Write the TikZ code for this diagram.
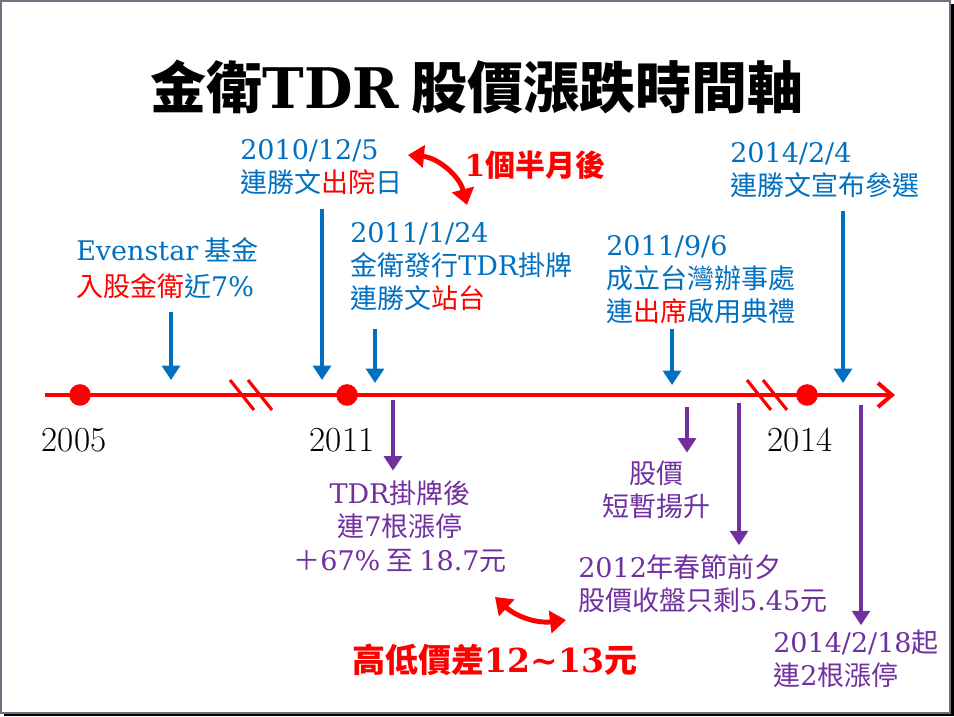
\documentclass[tikz,border=0pt]{standalone}
\usepackage{fontspec}
\usepackage{tikz}
\usetikzlibrary{arrows.meta, positioning, calc}
\setmainfont{Noto Sans CJK TC}
\newfontfamily\latn{DejaVu Serif}
\newfontfamily\yearfont{Latin Modern Roman}
\definecolor{tlblue}{HTML}{0070C0}
\definecolor{tlred}{HTML}{FF0000}
\definecolor{tlpurple}{HTML}{7030A0}
\definecolor{framegray}{HTML}{6F7180}
\newcommand{\la}[1]{{\latn #1}}
\newcommand{\hl}[1]{\textcolor{tlred}{#1}}

\begin{document}
\begin{tikzpicture}[>=Stealth,
  body/.style={inner sep=0pt, font=\fontsize{19.2pt}{23.5pt}\selectfont},
  bluetext/.style={body, tlblue, anchor=north west, align=left},
  purptext/.style={body, tlpurple},
  bluearr/.style={tlblue, line width=2.2pt, -{Triangle[width=0.45cm,length=0.36cm]}},
  purparr/.style={tlpurple, line width=2.2pt, -{Triangle[width=0.45cm,length=0.36cm]}},
  breakmark/.style={tlred, line width=2.2pt},
  bigarr/.style={tlred, line width=3.5pt, {Triangle[width=0.55cm,length=0.4cm]}-{Triangle[width=0.55cm,length=0.4cm]}},
  dot/.style={circle, fill=tlred, inner sep=0pt, minimum size=0.54cm},
  year/.style={font=\yearfont\fontsize{25pt}{30pt}\selectfont}]

  % 外框
  \useasboundingbox (0,0) rectangle (23.85,17.9);
  \fill[black] (0.1,0) rectangle (23.85,17.8);
  \draw[fill=white, draw=framegray, line width=1.2pt] (0.03,0.08) rectangle (23.75,17.87);

  % 標題
  \node[font=\bfseries\fontsize{39.8pt}{44pt}\selectfont] (title) at (11.925,15.725)
    {金衛\la{TDR} 股價漲跌時間軸};

  % 時間軸
  \coordinate (tl start) at (1.125,8.025);
  \coordinate (tl end) at (22.375,8.025);
  \draw[tlred, line width=2.85pt, -{Straight Barb[length=0.35cm,width=0.6cm]}] (tl start) -- (tl end);
  \node[dot] (d05) at (2.0,8.025) {};
  \node[dot] (d11) at (8.675,8.025) {};
  \node[dot] (d14) at (20.175,8.025) {};
  \foreach \x in {5.75, 6.2, 18.675, 19.075}
    \draw[breakmark] (\x,8.4) -- ++(0.6,-0.75);

  \node[year] (y05) at (1.85,6.9) {2005};
  \node[year] (y11) at (8.55,6.9) {2011};
  \node[year] (y14) at (20.0,6.9) {2014};

  % 上方事件
  \node[bluetext] (ev) at (1.9,11.975) {\la{Evenstar} 基金\\[2pt]\hl{入股金衛}近\la{7\%}};
  \node[bluetext] (out) at (6.0,14.415) {\la{2010/12/5}\\連勝文\hl{出院}日};
  \node[bluetext] (tdr) at (8.75,12.34) {\la{2011/1/24}\\金衛發行\la{TDR}掛牌\\連勝文\hl{站台}};
  \node[bluetext] (office) at (15.15,12.015) {\la{2011/9/6}\\成立台灣辦事處\\連\hl{出席}啟用典禮};
  \node[bluetext] (elect) at (18.25,14.34) {\la{2014/2/4}\\連勝文宣布參選};

  \coordinate (ev tip) at (4.275,8.4);
  \coordinate (out tip) at (8.05,8.4);
  \coordinate (tdr tip) at (9.375,8.325);
  \coordinate (office tip) at (16.8,8.275);
  \coordinate (elect tip) at (21.075,8.325);
  \draw[bluearr] (ev.south -| ev tip) ++(0,-0.33) -- (ev tip);
  \draw[bluearr] (out.south -| out tip) ++(0,-0.35) -- (out tip);
  \draw[bluearr] (tdr.south -| tdr tip) ++(0,-0.45) -- (tdr tip);
  \draw[bluearr] (office.south -| office tip) ++(0,-0.12) -- (office tip);
  \draw[bluearr] (elect.south -| elect tip) ++(0,-0.33) -- (elect tip);

  % 下方事件
  \node[purptext, anchor=north, align=center] (limit) at (10.0,5.875)
    {\la{TDR}掛牌後\\連\la{7}根漲停\\＋\la{67\%} 至 \la{18.7}元};
  \node[purptext, anchor=north, align=center] (rise) at (16.4,6.375) {股價\\短暫揚升};
  \node[purptext, anchor=north west, align=left] (eve) at (14.45,4.05)
    {\la{2012}年春節前夕\\股價收盤只剩\la{5.45}元};
  \node[purptext, anchor=north west, align=left] (feb) at (19.325,2.15)
    {\la{2014/2/18}起\\連\la{2}根漲停};

  \coordinate (limit top) at (9.825,7.9);
  \coordinate (rise top) at (17.175,7.725);
  \coordinate (eve top) at (18.475,7.825);
  \coordinate (feb top) at (21.525,7.775);
  \draw[purparr] (limit top) -- ($(limit.north -| limit top)+(0,0.26)$);
  \draw[purparr] (rise top) -- ($(rise.north -| rise top)+(0,0.21)$);
  \draw[purparr] (eve top) -- ($(eve.north -| eve top)+(0,0.22)$);
  \draw[purparr] (feb top) -- ($(feb.north -| feb top)+(0,0.12)$);

  % 紅色註記
  \node[tlred, font=\bfseries\fontsize{21.3pt}{26pt}\selectfont] (month) at (13.375,13.775)
    {\la{1}個半月後};
  \node[tlred, font=\bfseries\fontsize{23.5pt}{28pt}\selectfont] (gap) at (12.375,1.4)
    {高低價差\la{12\textasciitilde 13}元};
  \coordinate (m1) at (10.2,14.025);
  \coordinate (m2) at (11.675,12.775);
  \draw[bigarr] (m1) to[bend left=35] (m2);
  \coordinate (g1) at (12.375,2.975);
  \coordinate (g2) at (14.15,2.4);
  \draw[bigarr] (g1) to[bend right=25] (g2);
\end{tikzpicture}
\end{document}
